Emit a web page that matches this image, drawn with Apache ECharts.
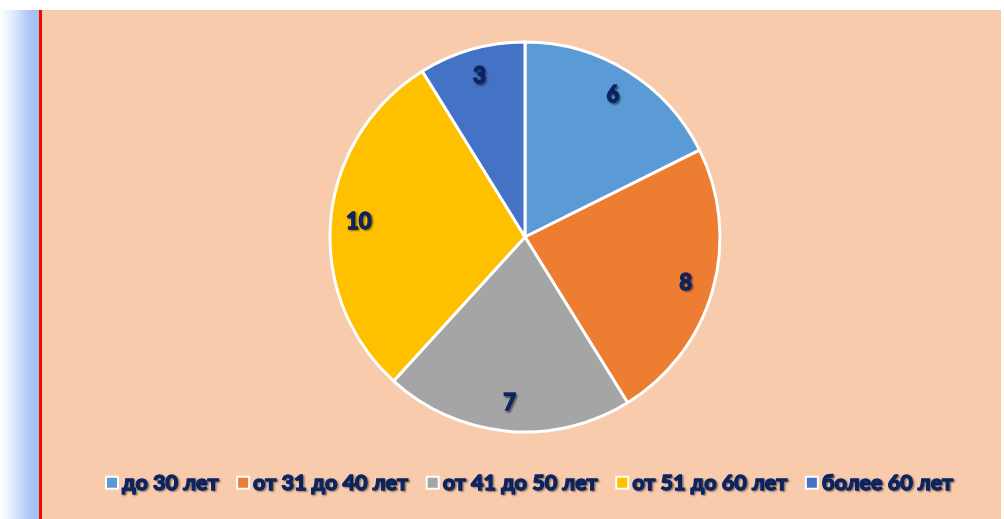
<!DOCTYPE html>
<html><head><meta charset="utf-8">
<script src="https://cdn.jsdelivr.net/npm/echarts@6/dist/echarts.min.js"></script>
<style>
html,body{margin:0;padding:0;background:#fff;width:1004px;height:519px;overflow:hidden;position:relative}
#grad{position:absolute;left:0;top:10px;width:39px;height:509px;background:linear-gradient(to right,#ffffff 0%,#dfe9fc 35%,#a9c3f5 80%,#a4c0f4 100%)}
#red{position:absolute;left:39px;top:10px;width:3px;height:509px;background:#ff0000}
#bg{position:absolute;left:42px;top:10px;width:959px;height:509px;background:#F8CBAD}
#chart{position:absolute;left:0;top:0;width:1004px;height:519px}
</style></head>
<body>
<div id="grad"></div><div id="red"></div><div id="bg"></div>
<div id="chart"></div>
<script>
const categories = ['до 30 лет','от 31 до 40 лет','от 41 до 50 лет','от 51 до 60 лет','более 60 лет'];
const values = [6, 8, 7, 10, 3];
const colors = ['#5B9BD5','#ED7D31','#A5A5A5','#FFC000','#4472C4'];

const chart = echarts.init(document.getElementById('chart'));
const data = categories.map((c,i)=>({name:c,value:values[i],itemStyle:{color:colors[i]}}));
const labelData = categories.map((c,i)=>({name:c,value:values[i],itemStyle:{color:'rgba(0,0,0,0)'}}));
const txt = {color:'#0B2466',fontWeight:'bold',fontFamily:'Lato',textBorderColor:'#0B2466',textBorderWidth:1.3,textShadowColor:'rgba(0,0,0,0.4)',textShadowBlur:2,textShadowOffsetX:1.5,textShadowOffsetY:1.5};
chart.setOption({
  animation:false,
  legend:{
    top:466, left:100, itemGap:17, itemWidth:12, itemHeight:12,
    icon:'rect',
    itemStyle:{borderColor:'#fff',borderWidth:2},
    textStyle:Object.assign({fontSize:21.5,padding:[0,0,0,-1]},txt),
    data:categories
  },
  series:[
    {type:'pie',center:[525,237],radius:[0,195],startAngle:90,clockwise:true,
     itemStyle:{borderColor:'#fff',borderWidth:3},
     label:{show:false},labelLine:{show:false},data:data},
    {type:'pie',center:[525,237],radius:[136,192],startAngle:90,clockwise:true,silent:true,
     legendHoverLink:false,
     itemStyle:{borderWidth:0},
     label:Object.assign({show:true,position:'inside',formatter:'{c}',fontSize:22},txt),
     labelLine:{show:false},data:labelData}
  ]
});
</script>
</body></html>
